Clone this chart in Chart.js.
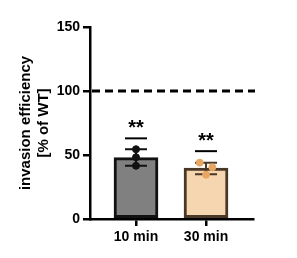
<!DOCTYPE html>
<html>
<head>
<meta charset="utf-8">
<script src="https://cdn.jsdelivr.net/npm/chart.js@4/dist/chart.umd.min.js"></script>
<style>
  html, body { margin: 0; padding: 0; background: #fff; }
  #wrap { width: 297px; height: 258px; }
</style>
</head>
<body>
<div id="wrap"><canvas id="myChart" width="297" height="258"></canvas></div>
<script>
const categories = ['10 min', '30 min'];
const barValues = [48, 39.7];
const errLow = [41.6, 35];
const errHigh = [54.5, 44];
const pointsX = [0, 0, 0, 0.91, 1.09, 1];
const pointsY = [54.5, 48.2, 41.6, 44, 40.4, 34.6];
const sigValues = [63, 53];
const sigLabel = ['**', '**'];
const refValue = 100;
const yTicks = [0, 50, 100, 150];

const barFill = ['#808080', '#f5d6b0'];
const barEdge = ['#111111', '#4a3826'];
const pointColors = ['#111111', '#111111', '#111111', '#e8a663', '#e8a663', '#e8a663'];

const extras = {
    id: 'extras',
    afterDatasetDraw(chart, args) {
        if (args.index !== 0) return;
        const ctx = chart.ctx;
        const xs = chart.scales.x, ys = chart.scales.y;
        ctx.save();
        // error bars
        categories.forEach((c, i) => {
            const x = xs.getPixelForValue(i);
            const yl = ys.getPixelForValue(errLow[i]);
            const yh = ys.getPixelForValue(errHigh[i]);
            ctx.strokeStyle = barEdge[i];
            ctx.lineWidth = 2;
            ctx.beginPath();
            ctx.moveTo(x, yl); ctx.lineTo(x, yh);
            ctx.moveTo(x - 11, yl); ctx.lineTo(x + 11, yl);
            ctx.moveTo(x - 11, yh); ctx.lineTo(x + 11, yh);
            ctx.stroke();
        });
        ctx.restore();
    },
    afterDraw(chart) {
        const ctx = chart.ctx;
        const xs = chart.scales.x, ys = chart.scales.y;
        const area = chart.chartArea;
        ctx.save();
        // reference line at 100 %
        const yr = ys.getPixelForValue(refValue);
        ctx.strokeStyle = '#000';
        ctx.lineWidth = 3;
        ctx.setLineDash([8, 5]);
        ctx.beginPath();
        ctx.moveTo(area.left + 2, yr);
        ctx.lineTo(area.right + 2, yr);
        ctx.stroke();
        ctx.setLineDash([]);
        // significance marks
        categories.forEach((c, i) => {
            const x = xs.getPixelForValue(i);
            const y = ys.getPixelForValue(sigValues[i]);
            ctx.lineWidth = 2;
            ctx.beginPath();
            ctx.moveTo(x - 11, y); ctx.lineTo(x + 11, y);
            ctx.stroke();
            ctx.fillStyle = '#000';
            ctx.font = 'bold 20px "Liberation Sans", Arial, sans-serif';
            ctx.textAlign = 'center';
            ctx.textBaseline = 'middle';
            ctx.fillText(sigLabel[i], x, y - 10);
        });
        ctx.restore();
    }
};

const ctx = document.getElementById('myChart').getContext('2d');
const myChart = new Chart(ctx, {
    type: 'bar',
    data: {
        datasets: [
            {
                type: 'bar',
                data: barValues.map((v, i) => ({ x: i, y: v })),
                backgroundColor: barFill,
                borderColor: barEdge,
                borderWidth: 3,
                borderSkipped: false,
                barThickness: 44,
                order: 2
            },
            {
                type: 'scatter',
                data: pointsY.map((v, i) => ({ x: pointsX[i], y: v })),
                backgroundColor: pointColors,
                borderColor: pointColors,
                pointRadius: 3.5,
                order: 1
            }
        ]
    },
    options: {
        responsive: false,
        animation: false,
        layout: { padding: { top: 27, right: 44, left: 0, bottom: 0 } },
        plugins: { legend: { display: false }, tooltip: { enabled: false } },
        scales: {
            x: {
                type: 'linear',
                offset: false,
                min: -0.657,
                max: 1.671,
                afterBuildTicks: (s) => { s.ticks = categories.map((c, i) => ({ value: i })); },
                afterFit: (s) => { s.height = 39; },
                border: { display: true, color: '#000', width: 2.5 },
                grid: { offset: false, drawOnChartArea: false, drawTicks: true, tickLength: 7, color: '#000', lineWidth: 2.5 },
                ticks: {
                    color: '#000',
                    padding: 3,
                    font: { family: '"Liberation Sans", Arial, sans-serif', size: 14, weight: 'bold' },
                    callback: (v) => categories[v]
                }
            },
            y: {
                min: 0,
                max: 150,
                afterBuildTicks: (s) => { s.ticks = yTicks.map(v => ({ value: v })); },
                afterFit: (s) => { s.width = 90; },
                border: { display: true, color: '#000', width: 2.5 },
                grid: { drawOnChartArea: false, drawTicks: true, tickLength: 7, color: '#000', lineWidth: 2.5 },
                ticks: {
                    color: '#000',
                    padding: 3,
                    font: { family: '"Liberation Sans", Arial, sans-serif', size: 14, weight: 'bold' }
                },
                title: {
                    display: true,
                    text: ['invasion efficiency', '[% of WT]'],
                    color: '#000',
                    padding: { top: 17, bottom: 0 },
                    font: { family: '"Liberation Sans", Arial, sans-serif', size: 15, weight: 'bold', lineHeight: 1.2 }
                }
            }
        }
    },
    plugins: [extras]
});
</script>
</body>
</html>
